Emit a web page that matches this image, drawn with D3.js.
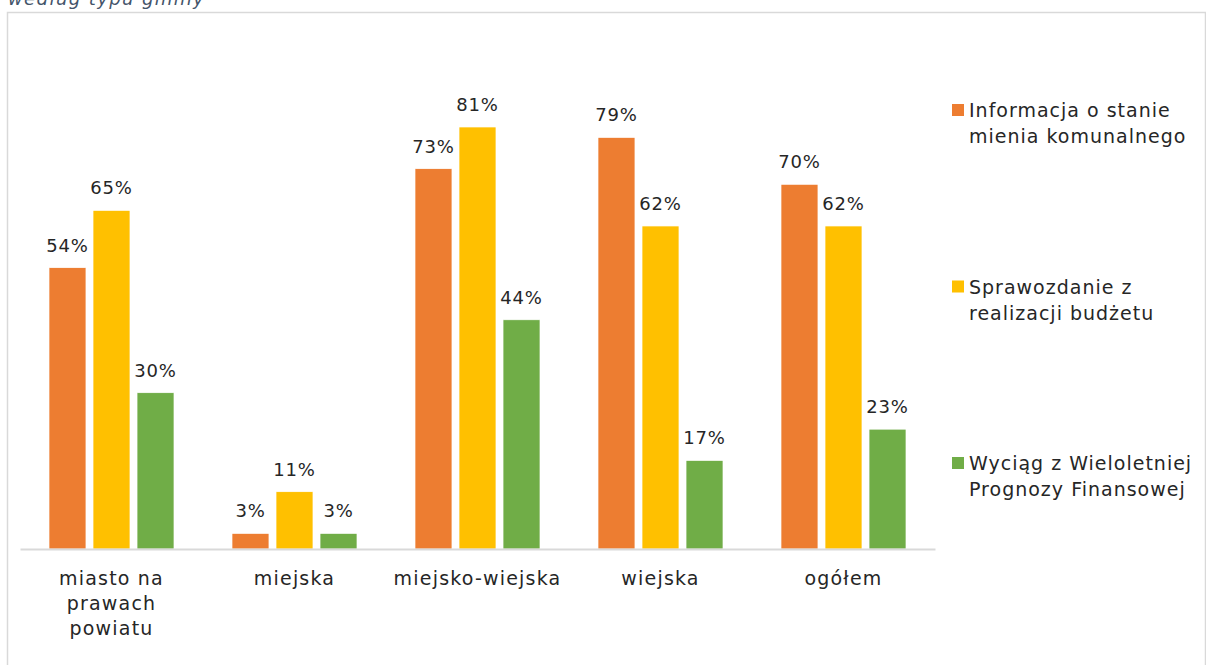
<!DOCTYPE html>
<html>
<head>
<meta charset="utf-8">
<script src="https://cdn.jsdelivr.net/npm/d3@7"></script>
<style>
  body { margin: 0; background: #fff; }
  text { font-family: "DejaVu Sans", sans-serif; fill: #262626; }
</style>
</head>
<body>
<div id="chart"></div>
<script>
// data
const categories = ["miasto na prawach powiatu", "miejska", "miejsko-wiejska", "wiejska", "ogółem"];
const seriesNames = ["Informacja o stanie mienia komunalnego", "Sprawozdanie z realizacji budżetu", "Wyciąg z Wieloletniej Prognozy Finansowej"];
const informacja = [54, 3, 73, 79, 70];
const sprawozdanie = [65, 11, 81, 62, 62];
const wyciag = [30, 3, 44, 17, 23];
const colors = ["#ED7D31", "#FFC000", "#70AD47"];

const series = [informacja, sprawozdanie, wyciag];

const W = 1206, H = 665;
const margin = { top: 28, left: 20, right: 271, bottom: 116 };
const width = W - margin.left - margin.right,
    height = H - margin.top - margin.bottom;

const svg = d3.select("#chart").append("svg")
    .attr("width", W)
    .attr("height", H);

// cut-off subtitle and the frame
svg.append("text")
    .attr("x", 8).attr("y", 5)
    .style("font-style", "italic")
    .style("font-size", "18px")
    .style("letter-spacing", "1.4px")
    .style("fill", "#44546A")
    .text("według typu gminy");

svg.append("rect")
    .attr("x", 7.5).attr("y", 12.5)
    .attr("width", 1198).attr("height", 700)
    .attr("fill", "none")
    .attr("stroke", "#d9d9d9")
    .attr("stroke-width", 1.5);

const g = svg.append("g")
    .attr("transform", "translate(" + margin.left + "," + margin.top + ")");

const x0 = d3.scaleBand().domain(categories).range([0, width]).paddingInner(0).paddingOuter(0);
const x1 = d3.scaleBand().domain(d3.range(series.length)).range([29, x0.bandwidth() - 29]).paddingInner(0.16);
const y = d3.scaleLinear().domain([0, 100]).range([height, 0]);

const groups = g.selectAll(".grp")
    .data(categories)
    .enter().append("g")
    .attr("transform", d => "translate(" + x0(d) + ",0)");

groups.each(function (cat, ci) {
    const gg = d3.select(this);
    series.forEach((s, si) => {
        gg.append("rect")
            .attr("x", x1(si))
            .attr("y", y(s[ci]))
            .attr("width", x1.bandwidth())
            .attr("height", height - y(s[ci]))
            .attr("fill", colors[si])
            .attr("stroke", "#fff")
            .attr("stroke-width", 0.7);
        gg.append("text")
            .attr("x", x1(si) + x1.bandwidth() / 2)
            .attr("y", y(s[ci]) - 16)
            .attr("text-anchor", "middle")
            .style("font-size", "18px")
            .style("letter-spacing", "0.8px")
            .text(s[ci] + "%");
    });
});

// x axis
const xAxis = g.append("g")
    .attr("transform", "translate(0," + height + ")")
    .call(d3.axisBottom(x0).tickSize(0).tickPadding(0));
xAxis.select(".domain").attr("stroke", "#d9d9d9").attr("stroke-width", 2);
xAxis.selectAll("text")
    .style("font-size", "19px")
    .style("letter-spacing", "1.2px")
    .style("font-family", "'DejaVu Sans', sans-serif")
    .attr("fill", "#262626")
    .attr("dy", null)
    .attr("y", 36)
    .call(wrap, 125, 25);

// legend
const legend = svg.append("g");
seriesNames.forEach((name, i) => {
    const ly = 110 + i * 176.5;
    legend.append("rect")
        .attr("x", 952).attr("y", ly - 6)
        .attr("width", 12).attr("height", 12)
        .attr("fill", colors[i]);
    legend.append("text")
        .attr("x", 969).attr("y", ly + 7)
        .style("font-size", "19px")
        .style("letter-spacing", "1px")
        .text(name)
        .call(wrap, 234, 26);
});

function wrap(texts, maxW, lineH) {
    texts.each(function () {
        const t = d3.select(this);
        const words = t.text().split(/\s+/);
        const x = t.attr("x") || 0, yy = t.attr("y");
        t.text(null);
        let line = [], n = 0;
        let ts = t.append("tspan").attr("x", x).attr("y", yy);
        words.forEach(w => {
            line.push(w);
            ts.text(line.join(" "));
            if (ts.node().getComputedTextLength() > maxW && line.length > 1) {
                line.pop();
                ts.text(line.join(" "));
                line = [w];
                n++;
                ts = t.append("tspan").attr("x", x).attr("y", +yy + n * lineH).text(w);
            }
        });
    });
}
</script>
</body>
</html>
